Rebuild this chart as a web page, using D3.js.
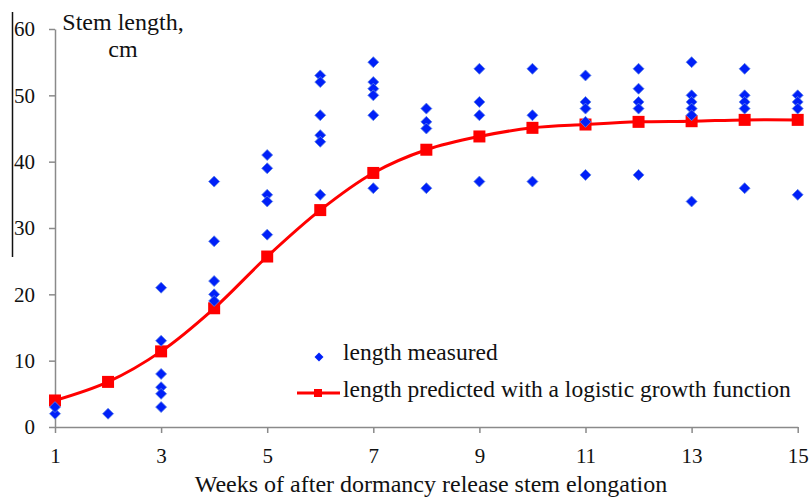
<!DOCTYPE html>
<html>
<head>
<meta charset="utf-8">
<script src="https://cdn.jsdelivr.net/npm/d3@7"></script>
<style>
  body { margin: 0; background: #fff; }
  text { font-family: "Liberation Serif", "Times New Roman", serif; fill: #111; }
</style>
</head>
<body>
<div id="chart"></div>
<script>
// datos
const weeks = [1, 2, 3, 4, 5, 6, 7, 8, 9, 10, 11, 12, 13, 14, 15];
const measured = [
  [2, 3],
  [2],
  [21, 13, 8, 6, 5, 3],
  [37, 28, 22, 20, 19],
  [41, 39, 35, 34, 29],
  [53, 52, 47, 44, 43, 35],
  [55, 52, 51, 50, 47, 36],
  [48, 46, 45, 36],
  [54, 49, 47, 37],
  [54, 47, 37],
  [53, 49, 48, 46, 38],
  [54, 51, 49, 48, 38],
  [55, 50, 49, 48, 47, 34],
  [54, 50, 49, 48, 36],
  [50, 49, 48, 35]
];
const predicted = [4.0, 6.8, 11.4, 17.9, 25.7, 32.7, 38.3, 41.8, 43.8, 45.1, 45.6, 46.0, 46.1, 46.3, 46.3];
const xTicks = [1, 3, 5, 7, 9, 11, 13, 15];
const yTicks = [0, 10, 20, 30, 40, 50, 60];

const W = 809, H = 498;
const mLeft = 55, mRight = 797.7, mTop = 29, mBottom = 427;
const axisColor = "#8a8a8a";

const svg = d3.select("#chart").append("svg")
  .attr("width", W)
  .attr("height", H);

const x = d3.scaleLinear().domain([1, 15]).range([mLeft, mRight]);
const y = d3.scaleLinear().domain([0, 60]).range([mBottom, mTop]);

// ejes
const gx = svg.append("g")
  .attr("transform", "translate(0," + mBottom + ")")
  .call(d3.axisBottom(x).tickValues(xTicks).tickSize(6).tickSizeOuter(0).tickPadding(10));
const gy = svg.append("g")
  .attr("transform", "translate(" + mLeft + ",0)")
  .call(d3.axisLeft(y).tickValues(yTicks).tickSize(6).tickSizeOuter(0).tickPadding(14));

[gx, gy].forEach(g => {
  g.select(".domain").attr("stroke", axisColor).attr("stroke-width", 1.5);
  g.selectAll(".tick line").attr("stroke", axisColor).attr("stroke-width", 1.5);
  g.selectAll(".tick text").style("font-size", "21px").attr("fill", "#111")
    .style("font-family", "'Liberation Serif', serif");
});
gy.selectAll(".tick text").attr("dy", "0.33em");
gx.selectAll(".tick text").attr("dy", "0.95em");

// linea negra a la izquierda (como en el original)
svg.append("line")
  .attr("x1", 12.5).attr("x2", 12.5)
  .attr("y1", 12).attr("y2", 257)
  .attr("stroke", "#111").attr("stroke-width", 1.5);

// titulos
svg.append("text").attr("x", 123).attr("y", 30)
  .attr("text-anchor", "middle").style("font-size", "24px").text("Stem length,");
svg.append("text").attr("x", 123).attr("y", 57)
  .attr("text-anchor", "middle").style("font-size", "24px").text("cm");
svg.append("text").attr("x", 431).attr("y", 492)
  .attr("text-anchor", "middle").style("font-size", "24px")
  .text("Weeks of after dormancy release stem elongation");

const diamond = (cx, cy, r) =>
  "M" + cx + "," + (cy - r) + "L" + (cx + r) + "," + cy + "L" + cx + "," + (cy + r) + "L" + (cx - r) + "," + cy + "Z";

// curva ajustada
const line = d3.line()
  .x((d, i) => x(weeks[i]))
  .y(d => y(d))
  .curve(d3.curveCatmullRom);

svg.append("path")
  .datum(predicted)
  .attr("d", line)
  .attr("fill", "none")
  .attr("stroke", "#ff0000")
  .attr("stroke-width", 3);

const sq = 12;
svg.append("g").selectAll("rect")
  .data(predicted)
  .enter()
  .append("rect")
  .attr("x", (d, i) => x(weeks[i]) - sq / 2)
  .attr("y", d => y(d) - sq / 2)
  .attr("width", sq)
  .attr("height", sq)
  .attr("fill", "#ff0000");

// puntos medidos (encima de la curva)
const points = [];
weeks.forEach((w, i) => measured[i].forEach(v => points.push({ w: w, v: v })));

svg.append("g").selectAll("path")
  .data(points)
  .enter()
  .append("path")
  .attr("d", d => diamond(x(d.w), y(d.v), 5.5))
  .attr("fill", "#0020f8")
  .attr("stroke", "#5f85e6")
  .attr("stroke-width", 0.8);

// leyenda
const lg = svg.append("g");
lg.append("path").attr("d", diamond(319, 357, 4.5)).attr("fill", "#0020f8");
lg.append("text").attr("x", 343).attr("y", 360).style("font-size", "23.5px").text("length measured");
lg.append("line").attr("x1", 297).attr("x2", 340).attr("y1", 393).attr("y2", 393)
  .attr("stroke", "#ff0000").attr("stroke-width", 3);
lg.append("rect").attr("x", 314).attr("y", 389).attr("width", 8).attr("height", 8).attr("fill", "#ff0000");
lg.append("text").attr("x", 343).attr("y", 397).style("font-size", "23.5px")
  .text("length predicted with a logistic growth function");
</script>
</body>
</html>
